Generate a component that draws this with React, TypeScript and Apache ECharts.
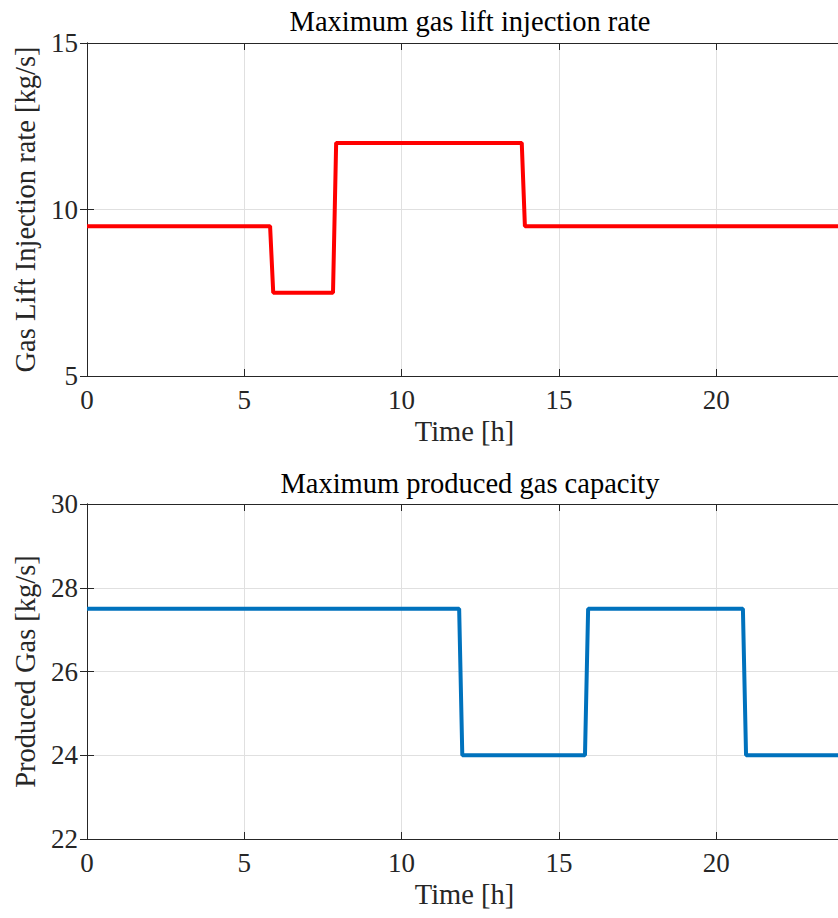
import React, { useEffect, useRef } from "react";
import * as echarts from "echarts";

// Top panel: maximum gas lift injection rate [kg/s] vs time [h]
const gasLiftTime = [0, 5.82, 5.92, 7.82, 7.92, 13.82, 13.92, 24];
const gasLiftRate = [9.5, 9.5, 7.5, 7.5, 12, 12, 9.5, 9.5];

// Bottom panel: maximum produced gas capacity [kg/s] vs time [h]
const prodTime = [0, 11.83, 11.93, 15.83, 15.93, 20.85, 20.95, 24];
const prodGas = [27.5, 27.5, 24, 24, 27.5, 27.5, 24, 24];

const titles = ["Maximum gas lift injection rate", "Maximum produced gas capacity"];
const yNames = ["Gas Lift Injection rate [kg/s]", "Produced Gas [kg/s]"];
const xName = "Time [h]";

const FONT = "Liberation Serif";
const FS = 27;
const FS_NAME = 28.5;
const AXC = "#262626";
const GRIDC = "#e0e0e0";

export default function App() {
  const ref = useRef<HTMLDivElement>(null);
  useEffect(() => {
    if (!ref.current) return;
    const chart = echarts.init(ref.current, undefined, { renderer: "svg" });
    const pair = (xs: number[], ys: number[]) => xs.map((x, i) => [x, ys[i]]);

    const xBottom = (gi: number) => ({
      type: "value",
      gridIndex: gi,
      min: 0,
      max: 24,
      interval: 5,
      position: "bottom",
      name: xName,
      nameLocation: "middle",
      nameGap: 41,
      nameTextStyle: { fontFamily: FONT, fontSize: FS_NAME, color: AXC },
      axisLine: { show: true, lineStyle: { color: AXC, width: 1 } },
      axisTick: { show: true, inside: true, length: 7, lineStyle: { color: AXC } },
      axisLabel: { fontFamily: FONT, fontSize: FS, color: AXC, margin: 10, showMaxLabel: false },
      splitLine: { show: true, lineStyle: { color: GRIDC, width: 1 } },
    });
    const xTop = (gi: number) => ({
      type: "value",
      gridIndex: gi,
      min: 0,
      max: 24,
      interval: 5,
      position: "top",
      axisLine: { show: true, lineStyle: { color: AXC, width: 1 } },
      axisTick: { show: true, inside: true, length: 7, lineStyle: { color: AXC } },
      axisLabel: { show: false },
      splitLine: { show: false },
    });
    const yLeft = (gi: number, min: number, max: number, interval: number, name: string) => ({
      type: "value",
      gridIndex: gi,
      min,
      max,
      interval,
      position: "left",
      name,
      nameLocation: "middle",
      nameGap: 41,
      nameRotate: 90,
      nameTextStyle: { fontFamily: FONT, fontSize: FS_NAME, color: AXC },
      axisLine: { show: true, lineStyle: { color: AXC, width: 1 } },
      axisTick: { show: true, inside: true, length: 7, lineStyle: { color: AXC } },
      axisLabel: { fontFamily: FONT, fontSize: FS, color: AXC, margin: 9 },
      splitLine: { show: true, lineStyle: { color: GRIDC, width: 1 } },
    });
    const yRight = (gi: number, min: number, max: number, interval: number) => ({
      type: "value",
      gridIndex: gi,
      min,
      max,
      interval,
      position: "right",
      axisLine: { show: true, lineStyle: { color: AXC, width: 1 } },
      axisTick: { show: true, inside: true, length: 7, lineStyle: { color: AXC } },
      axisLabel: { show: false },
      splitLine: { show: false },
    });

    chart.setOption({
      animation: false,
      backgroundColor: "#ffffff",
      title: [
        {
          text: titles[0],
          left: 465,
          top: 2,
          textAlign: "center",
          textStyle: { fontFamily: FONT, fontSize: FS_NAME, fontWeight: "normal", color: "#000" },
        },
        {
          text: titles[1],
          left: 465,
          top: 464,
          textAlign: "center",
          textStyle: { fontFamily: FONT, fontSize: FS_NAME, fontWeight: "normal", color: "#000" },
        },
      ],
      grid: [
        { left: 87, right: -4, top: 43, bottom: 542, outerBoundsMode: "none", containLabel: false },
        { left: 87, right: -4, top: 504, bottom: 79, outerBoundsMode: "none", containLabel: false },
      ],
      xAxis: [xBottom(0), xTop(0), xBottom(1), xTop(1)],
      yAxis: [
        yLeft(0, 5, 15, 5, yNames[0]),
        yRight(0, 5, 15, 5),
        yLeft(1, 22, 30, 2, yNames[1]),
        yRight(1, 22, 30, 2),
      ],
      series: [
        {
          type: "line",
          xAxisIndex: 0,
          yAxisIndex: 0,
          data: pair(gasLiftTime, gasLiftRate),
          symbol: "none",
          lineStyle: { color: "#ff0000", width: 4 },
          itemStyle: { color: "#ff0000" },
        },
        {
          type: "line",
          xAxisIndex: 2,
          yAxisIndex: 2,
          data: pair(prodTime, prodGas),
          symbol: "none",
          lineStyle: { color: "#0072bd", width: 4 },
          itemStyle: { color: "#0072bd" },
        },
      ],
    });
    return () => chart.dispose();
  }, []);
  return (
    <div
      ref={ref}
      style={{ position: "fixed", left: 0, top: 0, width: 838, height: 918, background: "#fff" }}
    />
  );
}
